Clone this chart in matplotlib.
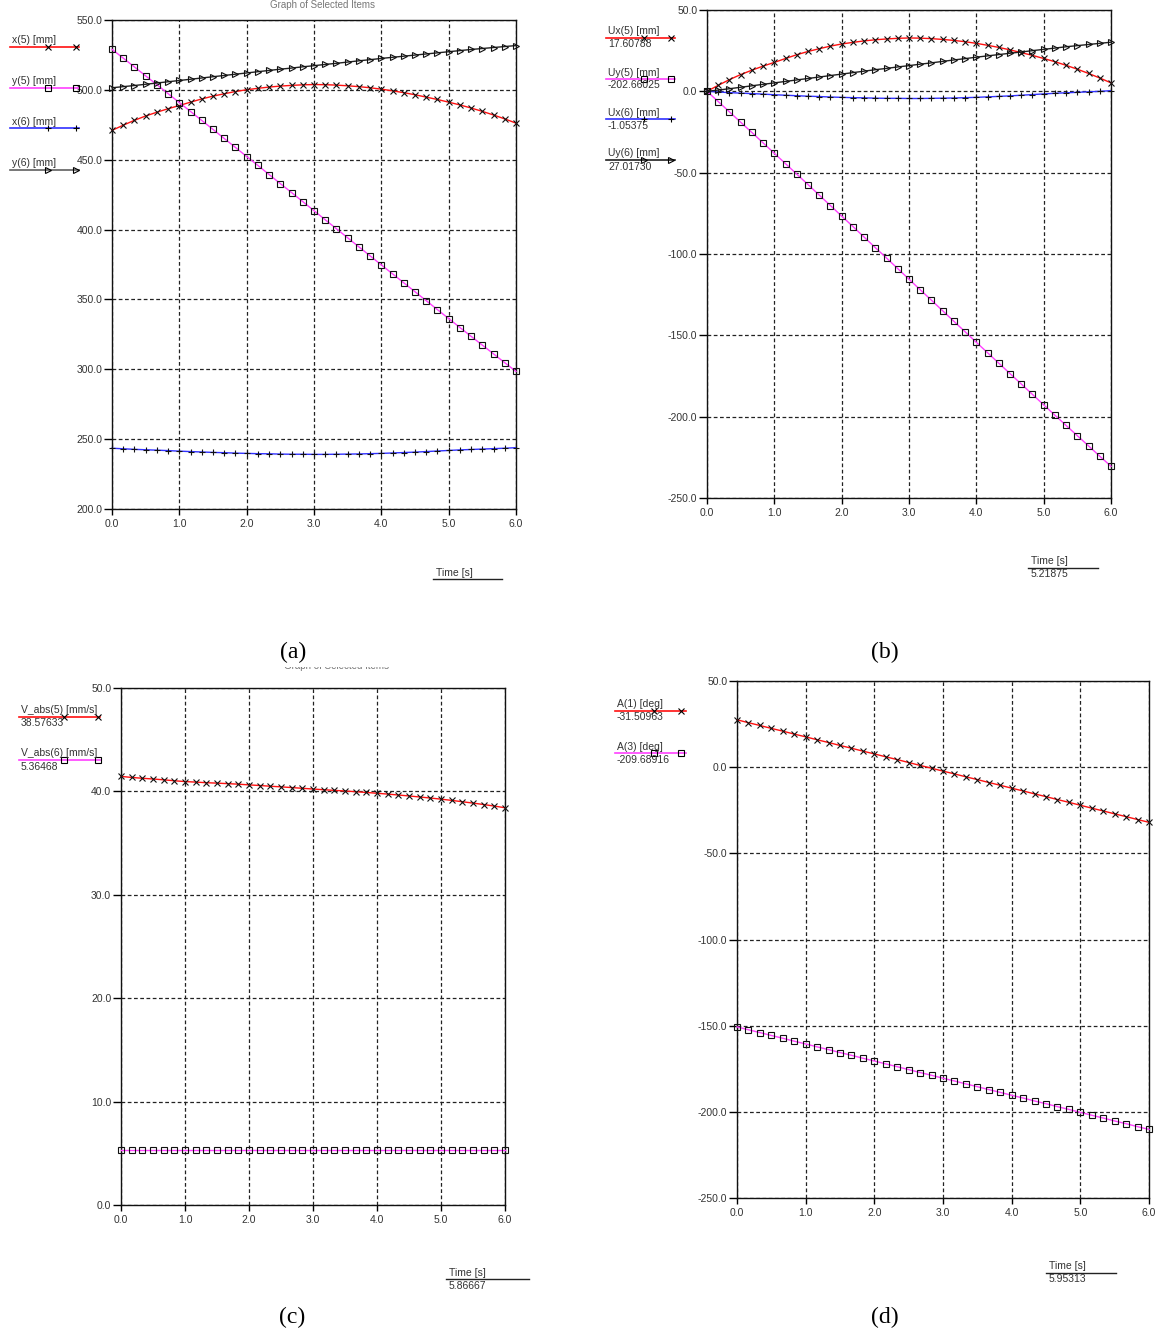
import numpy as np
import matplotlib
matplotlib.use("Agg")
import matplotlib.pyplot as plt
from matplotlib.lines import Line2D
from matplotlib.patches import Rectangle

plt.rcParams['font.family'] = ['Liberation Sans', 'DejaVu Sans']

W, H = 1161, 1333

# time axis (s)
time_s = [0.0, 0.167, 0.333, 0.5, 0.667, 0.833, 1.0, 1.167, 1.333, 1.5, 1.667, 1.833,
          2.0, 2.167, 2.333, 2.5, 2.667, 2.833, 3.0, 3.167, 3.333, 3.5, 3.667, 3.833,
          4.0, 4.167, 4.333, 4.5, 4.667, 4.833, 5.0, 5.167, 5.333, 5.5, 5.667, 5.833, 6.0]
x_ticks = [0, 1, 2, 3, 4, 5, 6]

# (a) positions [mm]
x5 = [471.0, 474.7, 478.2, 481.3, 484.0, 486.5, 488.8, 491.2, 493.5, 495.5, 497.2, 498.8,
      500.1, 501.1, 502.0, 502.7, 503.2, 503.6, 503.8, 503.7, 503.4, 502.9, 502.3, 501.5,
      500.5, 499.3, 498.0, 496.5, 494.8, 493.1, 491.2, 489.2, 487.0, 484.6, 482.0, 479.2, 476.2]
y5 = [529.0, 522.7, 516.4, 510.0, 503.7, 497.3, 490.9, 484.5, 478.1, 471.7, 465.2, 458.8,
      452.3, 445.9, 439.4, 432.9, 426.5, 420.0, 413.5, 407.0, 400.6, 394.1, 387.6, 381.2,
      374.7, 368.3, 361.9, 355.5, 349.1, 342.7, 336.3, 329.9, 323.6, 317.3, 311.0, 304.7, 298.5]
x6 = [243.5, 243.1, 242.7, 242.4, 242.1, 241.8, 241.4, 241.1, 240.8, 240.5, 240.3, 240.0,
      239.8, 239.6, 239.5, 239.3, 239.2, 239.2, 239.1, 239.1, 239.2, 239.3, 239.4, 239.6,
      239.8, 240.1, 240.4, 240.7, 241.1, 241.5, 241.9, 242.3, 242.6, 242.9, 243.2, 243.5, 243.9]
y6 = [501.5, 502.3, 503.1, 504.0, 504.9, 505.8, 506.7, 507.6, 508.5, 509.4, 510.3, 511.2,
      512.1, 513.0, 513.9, 514.8, 515.6, 516.5, 517.3, 518.2, 519.0, 519.9, 520.8, 521.6,
      522.5, 523.3, 524.1, 524.9, 525.7, 526.5, 527.3, 528.1, 528.9, 529.6, 530.3, 531.0, 531.7]

# (b) displacements [mm]
ux5 = [0.0, 3.7, 7.2, 10.3, 13.0, 15.5, 17.8, 20.2, 22.5, 24.5, 26.2, 27.8,
       29.1, 30.1, 31.0, 31.7, 32.2, 32.6, 32.8, 32.7, 32.4, 31.9, 31.3, 30.5,
       29.5, 28.3, 27.0, 25.5, 23.8, 22.1, 20.2, 18.2, 16.0, 13.6, 11.0, 8.2, 5.2]
uy5 = [0.0, -6.3, -12.6, -19.0, -25.3, -31.7, -38.1, -44.5, -50.9, -57.3, -63.8, -70.2,
       -76.7, -83.1, -89.6, -96.1, -102.5, -109.0, -115.5, -122.0, -128.4, -134.9, -141.4, -147.8,
       -154.3, -160.7, -167.1, -173.5, -179.9, -186.3, -192.7, -199.1, -205.4, -211.7, -218.0, -224.3, -230.5]
ux6 = [0.0, -0.4, -0.8, -1.1, -1.4, -1.7, -2.1, -2.4, -2.7, -3.0, -3.2, -3.5,
       -3.7, -3.9, -4.0, -4.2, -4.3, -4.3, -4.4, -4.4, -4.3, -4.2, -4.1, -3.9,
       -3.7, -3.4, -3.1, -2.8, -2.4, -2.0, -1.6, -1.2, -0.9, -0.6, -0.3, 0.0, 0.4]
uy6 = [0.0, 0.8, 1.6, 2.5, 3.4, 4.3, 5.2, 6.1, 7.0, 7.9, 8.8, 9.7,
       10.6, 11.5, 12.4, 13.3, 14.1, 15.0, 15.8, 16.7, 17.5, 18.4, 19.3, 20.1,
       21.0, 21.8, 22.6, 23.4, 24.2, 25.0, 25.8, 26.6, 27.4, 28.1, 28.8, 29.5, 30.2]

# (c) absolute velocities [mm/s]
v5 = [41.45, 41.35, 41.27, 41.20, 41.12, 41.03, 40.95, 40.90, 40.84, 40.80, 40.75, 40.70,
      40.63, 40.57, 40.50, 40.44, 40.37, 40.30, 40.23, 40.16, 40.10, 40.04, 39.97, 39.90,
      39.82, 39.74, 39.65, 39.56, 39.46, 39.36, 39.25, 39.13, 39.00, 38.87, 38.73, 38.58, 38.42]
v6 = [5.36, 5.36, 5.36, 5.36, 5.36, 5.36, 5.36, 5.36, 5.36, 5.36, 5.36, 5.36,
      5.36, 5.36, 5.36, 5.36, 5.36, 5.36, 5.36, 5.36, 5.36, 5.36, 5.36, 5.36,
      5.36, 5.36, 5.36, 5.36, 5.36, 5.36, 5.36, 5.36, 5.36, 5.36, 5.36, 5.36, 5.36]

# (d) angles [deg]
a1 = [27.5, 25.8, 24.2, 22.5, 20.9, 19.2, 17.6, 15.9, 14.3, 12.6, 11.0, 9.3,
      7.7, 6.0, 4.4, 2.7, 1.0, -0.6, -2.3, -3.9, -5.6, -7.2, -8.9, -10.5,
      -12.2, -13.8, -15.5, -17.1, -18.8, -20.4, -22.1, -23.8, -25.4, -27.1, -28.7, -30.4, -32.0]
a3 = [-150.7, -152.4, -154.0, -155.7, -157.3, -159.0, -160.6, -162.3, -163.9, -165.6, -167.2, -168.9,
      -170.5, -172.2, -173.8, -175.5, -177.2, -178.8, -180.5, -182.1, -183.8, -185.4, -187.1, -188.7,
      -190.4, -192.0, -193.7, -195.3, -197.0, -198.6, -200.3, -202.0, -203.6, -205.3, -206.9, -208.6, -210.2]

RED, MAG, BLUE, DARK = '#ff1010', '#ff40ff', '#3030ff', '#202020'
TXT = '#333333'
FS = 7.5

fig = plt.figure(figsize=(W / 100, H / 100), dpi=100)


def fx(px):
    return px / W


def fy(py):
    return 1 - py / H


def make_axes(left, top, right, bottom, ylim, yticks):
    ax = fig.add_axes([fx(left), fy(bottom), fx(right - left), (bottom - top) / H])
    ax.set_xlim(0, 6)
    ax.set_ylim(*ylim)
    ax.set_xticks(x_ticks)
    ax.set_xticklabels(['%.1f' % v for v in x_ticks])
    ax.set_yticks(yticks)
    ax.set_yticklabels(['%.1f' % v for v in yticks])
    ax.grid(True, color='#222222', linestyle=(0, (3, 2)), linewidth=0.9)
    ax.tick_params(axis='y', direction='out', length=5.5, width=1, pad=1.5,
                   labelsize=FS, labelcolor=TXT)
    ax.tick_params(axis='x', direction='out', length=4.5, width=1, pad=3,
                   labelsize=FS, labelcolor=TXT)
    for s in ax.spines.values():
        s.set_color('#111111')
        s.set_linewidth(1)
    return ax


def series(ax, y, color, marker, ms=5):
    ax.plot(time_s, y, color=color, lw=1, marker=marker, ms=ms, mec='#111111',
            mfc='none', mew=0.8, clip_on=False, zorder=3)


def legend_item(x0, x1, y, color, marker, label, marks, value=None, ms=5):
    fig.add_artist(Line2D([fx(x0), fx(x1)], [fy(y), fy(y)], color=color, lw=1.2))
    fig.add_artist(Line2D([fx(m) for m in marks], [fy(y)] * len(marks), ls='none',
                          marker=marker, ms=ms, mec='black', mfc='none', mew=0.8))
    fig.text(fx(x0 + 2), fy(y - 1.5), label, ha='left', va='bottom', fontsize=FS, color=TXT)
    if value is not None:
        fig.text(fx(x0 + 2), fy(y + 1.5), value, ha='left', va='top', fontsize=FS, color=TXT)


def time_label(x0, x1, y, value=None):
    fig.text(fx(x0 + 3), fy(y - 1.5), 'Time [s]', ha='left', va='bottom', fontsize=FS, color=TXT)
    fig.add_artist(Line2D([fx(x0), fx(x1)], [fy(y), fy(y)], color='#222222', lw=1))
    if value is not None:
        fig.text(fx(x0 + 3), fy(y + 1.5), value, ha='left', va='top', fontsize=FS, color=TXT)


# ---- (a)
ax_a = make_axes(112, 20, 516, 509, (200, 550), [200, 250, 300, 350, 400, 450, 500, 550])
series(ax_a, x5, RED, 'x')
series(ax_a, y5, MAG, 's', ms=4.5)
series(ax_a, x6, BLUE, '+')
series(ax_a, y6, DARK, '>', ms=4.5)
legend_item(10, 79, 46.7, RED, 'x', 'x(5) [mm]', [48, 76])
legend_item(10, 79, 87.7, MAG, 's', 'y(5) [mm]', [48, 76], ms=4.5)
legend_item(10, 79, 128.3, BLUE, '+', 'x(6) [mm]', [48, 76])
legend_item(10, 79, 170, '#606060', '>', 'y(6) [mm]', [48, 76], ms=4.5)
time_label(433, 502, 579.3)
fig.text(fx(322), fy(0.5), 'Graph of Selected Items', ha='center', va='top',
         fontsize=7, color='#777777')

# ---- (b)
ax_b = make_axes(707, 10, 1111, 498, (-250, 50), [-250, -200, -150, -100, -50, 0, 50])
series(ax_b, ux5, RED, 'x')
series(ax_b, uy5, MAG, 's', ms=4.5)
series(ax_b, ux6, BLUE, '+')
series(ax_b, uy6, DARK, '>', ms=4.5)
legend_item(606, 675, 37.7, RED, 'x', 'Ux(5) [mm]', [644, 671], '17.60788')
legend_item(606, 675, 79, MAG, 's', 'Uy(5) [mm]', [644, 671], '-202.66025', ms=4.5)
legend_item(606, 675, 119.3, BLUE, '+', 'Ux(6) [mm]', [644, 671], '-1.05375')
legend_item(606, 675, 160, DARK, '>', 'Uy(6) [mm]', [644, 671], '27.01730', ms=4.5)
time_label(1028, 1098, 567.7, '5.21875')

# ---- (c)
ax_c = make_axes(121, 688, 505, 1205, (0, 50), [0, 10, 20, 30, 40, 50])
series(ax_c, v5, RED, 'x')
series(ax_c, v6, MAG, 's', ms=4.5)
legend_item(19, 100, 716.7, RED, 'x', 'V_abs(5) [mm/s]', [64, 98], '38.57633')
legend_item(19, 100, 760, MAG, 's', 'V_abs(6) [mm/s]', [64, 98], '5.36468', ms=4.5)
time_label(446, 529, 1279.3, '5.86667')
fig.text(fx(336), fy(666), 'Graph of Selected Items', ha='center', va='center',
         fontsize=7, color='#777777')
fig.add_artist(Rectangle((fx(230), fy(667)), fx(440 - 230), (667 - 645) / H,
                         facecolor='white', edgecolor='none', zorder=4))

# ---- (d)
ax_d = make_axes(737, 681, 1149, 1198, (-250, 50), [-250, -200, -150, -100, -50, 0, 50])
series(ax_d, a1, RED, 'x')
series(ax_d, a3, MAG, 's', ms=4.5)
legend_item(615, 686, 710.7, RED, 'x', 'A(1) [deg]', [654, 681], '-31.50963')
legend_item(615, 686, 753.3, MAG, 's', 'A(3) [deg]', [654, 681], '-209.68916', ms=4.5)
time_label(1046, 1116, 1272.7, '5.95313')

# panel captions
for lab, px, py in [('(a)', 293, 652), ('(b)', 885, 652), ('(c)', 292, 1317), ('(d)', 885, 1317)]:
    fig.text(fx(px), fy(py), lab, ha='center', va='center', fontsize=17,
             family='Liberation Serif', color='black', zorder=5)

fig.savefig('out.png', dpi=100, facecolor='white')
